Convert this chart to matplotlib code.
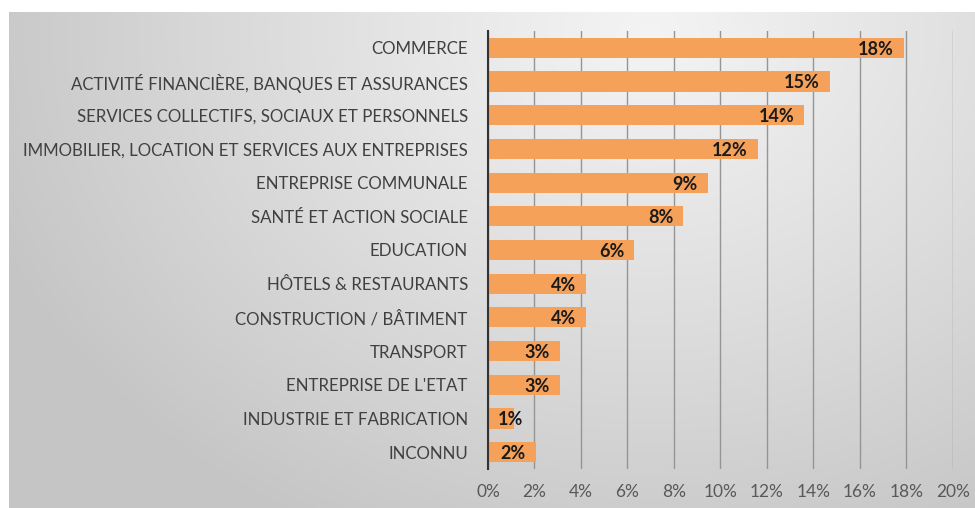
import numpy as np
import matplotlib
matplotlib.use("Agg")
import matplotlib.pyplot as plt

plt.rcParams['font.family'] = ['Lato', 'DejaVu Sans']

categories = [
    "COMMERCE",
    "ACTIVITÉ FINANCIÈRE, BANQUES ET ASSURANCES",
    "SERVICES COLLECTIFS, SOCIAUX ET PERSONNELS",
    "IMMOBILIER, LOCATION ET SERVICES AUX ENTREPRISES",
    "ENTREPRISE COMMUNALE",
    "SANTÉ ET ACTION SOCIALE",
    "EDUCATION",
    "HÔTELS & RESTAURANTS",
    "CONSTRUCTION / BÂTIMENT",
    "TRANSPORT",
    "ENTREPRISE DE L'ETAT",
    "INDUSTRIE ET FABRICATION",
    "INCONNU",
]
shares = [17.9, 14.7, 13.6, 11.6, 9.45, 8.4, 6.3, 4.2, 4.2, 3.1, 3.1, 1.1, 2.05]
x_ticks = [0, 2, 4, 6, 8, 10, 12, 14, 16, 18, 20]

W, H = 975, 508
fig = plt.figure(figsize=(W / 100, H / 100), dpi=100)

# shaded backdrop panel
bg = fig.add_axes([9 / W, 0, 1 - 9 / W, 1 - 12 / H])
yy, xx = np.mgrid[0:496, 0:966]
cx, cy = 640.0, 20.0
d = np.sqrt(((xx - cx) / 1.0) ** 2 + ((yy - cy) * 1.25) ** 2)
d = np.clip(d / 700.0, 0, 1)
shade = 0.955 - 0.18 * d ** 1.1
bg.imshow(np.dstack([shade] * 3), aspect='auto', interpolation='bilinear')
bg.set_axis_off()

ax = fig.add_axes([488 / W, 1 - 469 / H, (952.7 - 488) / W, (469 - 31) / H])
ax.patch.set_alpha(0)
y = np.arange(len(categories))
ax.barh(y, shares, height=0.6, color='#F5A15A', zorder=3)
ax.set_xlim(0, 20)
ax.set_ylim(len(categories) - 0.5, -0.5)
ax.set_xticks(x_ticks)
ax.set_xticklabels([f"{t}%" for t in x_ticks], fontsize=12.5, color='#595959')
ax.set_yticks(y)
ax.set_yticklabels(categories, fontsize=12.2, color='#404040')
ax.tick_params(length=0)
ax.tick_params(axis='y', pad=14.5)
ax.tick_params(axis='x', pad=11)
ax.grid(axis='x', color='#959595', linewidth=1.0, zorder=1)
for s in ['top', 'right', 'bottom']:
    ax.spines[s].set_visible(False)
ax.spines['left'].set_color('#333333')
ax.spines['left'].set_linewidth(1.5)
ax.spines['left'].set_zorder(4)

for yi, v in zip(y, shares):
    label = f"{v:.0f}%"
    if v < 1.5:
        ax.annotate(label, (0, yi), xytext=(7, -1), textcoords='offset points',
                    ha='left', va='center', fontsize=13, fontweight='bold',
                    color='#1a1a1a', zorder=5)
    else:
        ax.annotate(label, (v, yi), xytext=(-7, -1), textcoords='offset points',
                    ha='right', va='center', fontsize=13, fontweight='bold',
                    color='#1a1a1a', zorder=5)

fig.savefig("out.png", dpi=100)
